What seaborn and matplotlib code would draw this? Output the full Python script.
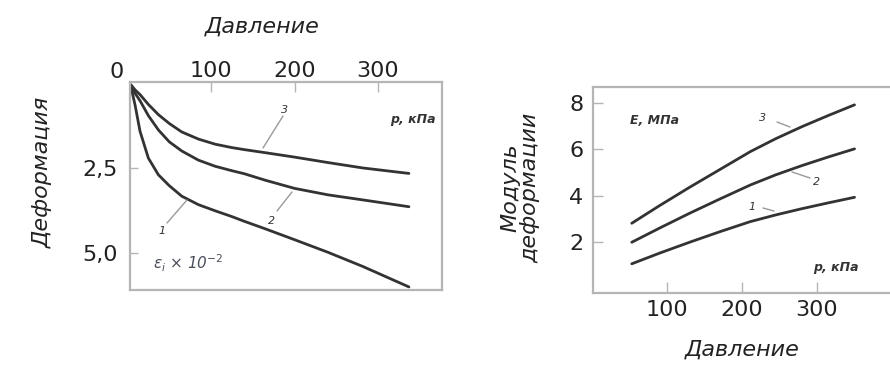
import numpy as np
import pandas as pd
import matplotlib
matplotlib.use("Agg")
import matplotlib.pyplot as plt
import seaborn as sns

# ---------------- data ----------------
# Left panel: deformation (x10^-2) vs pressure, kPa
pressure_left = [4, 9, 15, 25, 37, 50, 65, 85, 105, 125, 140, 165, 200, 240, 282, 337]
deform_1 = [0.10, 0.64, 1.42, 2.21, 2.70, 3.02, 3.33, 3.58, 3.76, 3.93, 4.07, 4.29, 4.61, 4.98, 5.40, 6.00]
deform_2 = [0.06, 0.30, 0.52, 0.96, 1.38, 1.73, 2.00, 2.27, 2.45, 2.58, 2.67, 2.86, 3.10, 3.29, 3.44, 3.64]
deform_3 = [0.05, 0.20, 0.34, 0.63, 0.93, 1.19, 1.44, 1.65, 1.80, 1.90, 1.96, 2.05, 2.18, 2.34, 2.50, 2.66]

# Right panel: deformation modulus, MPa vs pressure, kPa
pressure_right = [53, 90, 130, 170, 211, 245, 280, 315, 350]
modulus_1 = [1.06, 1.52, 1.99, 2.44, 2.88, 3.17, 3.44, 3.69, 3.93]
modulus_2 = [1.99, 2.60, 3.24, 3.85, 4.46, 4.90, 5.30, 5.67, 6.02]
modulus_3 = [2.81, 3.57, 4.36, 5.12, 5.90, 6.46, 6.98, 7.46, 7.92]

curve_names = ["1", "2", "3"]
left_xticks = [100, 200, 300]
left_yticks = [2.5, 5.0]
left_yticklabels = ["2,5", "5,0"]
right_xticks = [100, 200, 300]
right_yticks = [2, 4, 6, 8]

# ---------------- build tables ----------------
df_left = pd.DataFrame({
    "p": pressure_left * 3,
    "v": deform_1 + deform_2 + deform_3,
    "curve": sum([[n] * len(pressure_left) for n in curve_names], []),
})
df_right = pd.DataFrame({
    "p": pressure_right * 3,
    "v": modulus_1 + modulus_2 + modulus_3,
    "curve": sum([[n] * len(pressure_right) for n in curve_names], []),
})

sns.set_theme(style="white")
plt.rcParams["font.family"] = ["DejaVu Sans"]

W, H = 890, 365
fig = plt.figure(figsize=(W / 100, H / 100), dpi=100)

def fx(px):
    return px / W

def fy(py):
    return 1 - py / H

line_color = "#333333"
spine_color = "#b5b5b5"
text_color = "#222222"

# ---------------- left panel ----------------
axL = fig.add_axes([fx(130), fy(290), (442 - 130) / W, (290 - 82) / H])
sns.lineplot(data=df_left, x="p", y="v", hue="curve", palette=[line_color] * 3,
             legend=False, ax=axL, linewidth=2.0, sort=False)
axL.set_xlim(3, 376.6)
axL.set_ylim(6.09, -0.03)
axL.set_xticks(left_xticks)
axL.set_xticklabels([str(t) for t in left_xticks])
axL.set_yticks(left_yticks)
axL.set_yticklabels(left_yticklabels)
axL.xaxis.tick_top()
axL.tick_params(axis="x", direction="in", length=7, width=1, color=spine_color,
                labelsize=16, pad=1, labelcolor=text_color, top=True, bottom=False)
axL.tick_params(axis="y", direction="in", length=6, width=1, color=spine_color,
                labelsize=16, pad=9, labelcolor=text_color, left=True)
axL.set_xlabel("")
axL.set_ylabel("")
for s in axL.spines.values():
    s.set_color(spine_color)
    s.set_linewidth(1.6)

# ---------------- right panel ----------------
axR = fig.add_axes([fx(593), fy(293), 0.36, (293 - 87) / H])
sns.lineplot(data=df_right, x="p", y="v", hue="curve", palette=[line_color] * 3,
             legend=False, ax=axR, linewidth=2.0, sort=False)
axR.set_xlim(1.3, 1.3 + 0.36 * W / 0.75)
axR.set_ylim(-0.2, 8.69)
axR.set_xticks(right_xticks)
axR.set_xticklabels([str(t) for t in right_xticks])
axR.set_yticks(right_yticks)
axR.set_yticklabels([str(t) for t in right_yticks])
axR.tick_params(axis="x", direction="in", length=8, width=1, color=spine_color,
                labelsize=16, pad=5, labelcolor=text_color, bottom=True)
axR.tick_params(axis="y", direction="in", length=7, width=1, color=spine_color,
                labelsize=16, pad=7, labelcolor=text_color, left=True)
axR.set_xlabel("")
axR.set_ylabel("")
for s in axR.spines.values():
    s.set_color(spine_color)
    s.set_linewidth(1.6)

# ---------------- texts ----------------
big = dict(fontsize=16, style="italic", color=text_color, ha="center", va="center")
fig.text(fx(262), fy(27), "Давление", **big)
fig.text(fx(742), fy(350), "Давление", **big)
fig.text(fx(43), fy(172), "Деформация", rotation=90, **big)
fig.text(fx(520), fy(188), "Модуль\nдеформации", rotation=90, linespacing=1.0, **big)
fig.text(fx(117), fy(72), "0", fontsize=16, color=text_color, ha="center", va="center")

small = dict(fontsize=9, style="italic", color="#333333", ha="center", va="center",
             weight="semibold")
fig.text(fx(413), fy(120), "p, кПа", **small)
fig.text(fx(836), fy(268), "p, кПа", **small)
fig.text(fx(654), fy(120), "E, МПа", **small)
fig.text(fx(188), fy(263), r"$ε_i$ × 10$^{-2}$", fontsize=11, style="italic",
         color="#4a4f5a", ha="center", va="center")

# curve numbers with leader lines: (label, label x, label y, line x0, y0, x1, y1) in px
labels = [
    ("3", 285, 110, 283, 116, 263, 148),
    ("2", 272, 221, 277, 211, 292, 192),
    ("1", 162, 231, 167, 223, 187, 200),
    ("3", 763, 118, 777, 122, 790, 127),
    ("2", 817, 182, 810, 178, 792, 172),
    ("1", 752, 207, 763, 208, 774, 211),
]
for t, lx, ly, x0, y0, x1, y1 in labels:
    fig.text(fx(lx), fy(ly), t, fontsize=8, style="italic", color="#333333",
             ha="center", va="center")
    fig.add_artist(plt.Line2D([fx(x0), fx(x1)], [fy(y0), fy(y1)],
                              transform=fig.transFigure, color="#9a9a9a", lw=1.0))

fig.savefig("out.png", dpi=100)
